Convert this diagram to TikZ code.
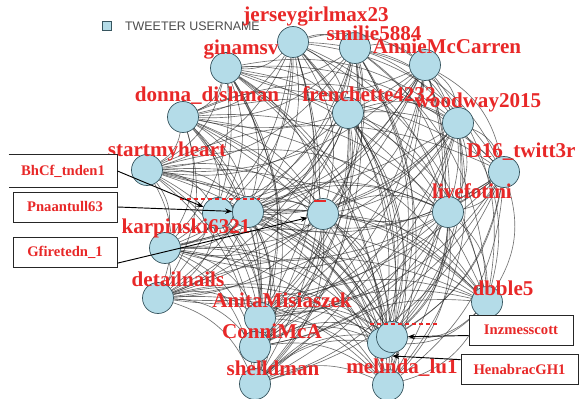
\documentclass[tikz,border=0pt]{standalone}
\usepackage{fontspec}
\setmainfont{Liberation Serif}
\newfontfamily\legendfont{Liberation Sans}
\usetikzlibrary{arrows.meta}
\pgfdeclarelayer{edges}
\pgfsetlayers{edges,main}
\definecolor{usered}{RGB}{232,40,40}
\definecolor{nodeblue}{RGB}{180,220,232}
\definecolor{nodeedge}{RGB}{55,85,95}
\def\netnodes{jersey,smilie,annie,ginamsv,donna,french,woodway,startmy,d16,bhcf,pnaan,gfire,livefot,karpin,detail,anita,conni,shelld,dbble,inzmes,henab,melinda}

\begin{document}
\begin{tikzpicture}[x=0.03cm, y=-0.03cm,
    user/.style={circle, draw=nodeedge, line width=0.6pt, fill=nodeblue, minimum size=0.93cm, inner sep=0pt},
    uname/.style={text=usered, font=\fontsize{18}{18}\selectfont\bfseries, inner sep=0pt},
    tie/.style={draw=black!85, opacity=0.65, line width=0.55pt},
    tagbox/.style={draw=black!85, line width=0.8pt, fill=white, minimum width=3.12cm, minimum height=0.9cm, text=usered, font=\fontsize{12.5}{13}\selectfont\bfseries},
    pointer/.style={-{Stealth[length=6pt,width=4.5pt]}, line width=0.8pt}]
    \useasboundingbox (0,0) rectangle (579,399);
    \clip (0,0) rectangle (579,399);
    % Legend
    \node[draw=nodeedge, fill=nodeblue, line width=0.6pt, minimum size=0.26cm, inner sep=0pt] (key) at (107,26) {};
    \node[anchor=west, text=black!70, font=\legendfont\fontsize{10.6}{11}\selectfont] (keytext) at (121,26) {TWEETER USERNAME};
    % Users
    \node[user] (jersey) at (293,42) {};
    \node[user] (smilie) at (355,48) {};
    \node[user] (annie) at (425,65) {};
    \node[user] (ginamsv) at (226,68) {};
    \node[user] (donna) at (183,117) {};
    \node[user] (french) at (348,113) {};
    \node[user] (woodway) at (458,123) {};
    \node[user] (startmy) at (147,170) {};
    \node[user] (d16) at (504,172) {};
    \node[user] (bhcf) at (218,213) {};
    \node[user] (pnaan) at (248,212) {};
    \node[user] (gfire) at (323,214) {};
    \node[user] (livefot) at (448,212) {};
    \node[user] (karpin) at (165,248) {};
    \node[user] (detail) at (158,298) {};
    \node[user] (anita) at (260,318) {};
    \node[user] (conni) at (255,347) {};
    \node[user] (shelld) at (255,384) {};
    \node[user] (dbble) at (487,302) {};
    \node[user] (henab) at (383,343) {};
    \node[user] (inzmes) at (392,337) {};
    \node[user] (melinda) at (388,385) {};
    % Usernames
    \node[uname] (jersey-t) at (316,17) {jerseygirlmax23};
    \node[uname] (smilie-t) at (374,33) {smilie5884};
    \node[uname] (annie-t) at (447,46) {AnnieMcCarren};
    \node[uname] (ginamsv-t) at (241,50) {ginamsv};
    \node[uname] (donna-t) at (207,96) {donna\_dishman};
    \node[uname] (french-t) at (369,94) {frenchette4232};
    \node[uname] (woodway-t) at (478,102) {woodway2015};
    \node[uname] (startmy-t) at (167,151) {startmyheart};
    \node[uname] (d16-t) at (521,152) {D16\_twitt3r};
    \node[uname] (livefot-t) at (472,191) {livefotini};
    \node[uname] (karpin-t) at (186,228) {karpinski6321};
    \node[uname] (detail-t) at (178,279) {detailnails};
    \node[uname] (anita-t) at (282,300) {AnitaMisiaszek};
    \node[uname] (conni-t) at (272,331) {ConniMcA};
    \node[uname] (shelld-t) at (273,368) {shelldman};
    \node[uname] (dbble-t) at (503,288) {dbble5};
    \node[uname] (melinda-t) at (402,368) {melinda\_lu1};
    % Hidden names
    \draw[usered, dashed, line width=1pt] (180,199) -- (260,199);
    \draw[usered, line width=1.2pt] (314,201) -- (326,201);
    \draw[usered, dashed, line width=1pt] (370,324) -- (440,324);
    % Edges
    \begin{pgfonlayer}{edges}
    \foreach \a [count=\i] in \netnodes {
        \foreach \b [count=\j] in \netnodes {
            \ifnum\j>\i \draw[tie] (\a) to[bend left=24] (\b); \fi
        }
    }
    \end{pgfonlayer}
    % Callouts
    \node[tagbox, draw=none, minimum width=3.24cm, minimum height=0.96cm] (bhcfbox) at (63,171) {BhCf\_tnden1};
    \draw[black!85, line width=0.8pt] (bhcfbox.north west) -- (bhcfbox.north east) -- (bhcfbox.south east) -- (bhcfbox.south west);
    \node[tagbox] (pnaanbox) at (65,207) {Pnaantull63};
    \node[tagbox] (gfirebox) at (65,252) {Gfiretedn\_1};
    \node[tagbox] (inzbox) at (521,330) {Inzmesscott};
    \node[tagbox, minimum width=3.51cm] (henabbox) at (519.5,369) {HenabracGH1};
    \draw[pointer] (bhcfbox.east) -- (bhcf);
    \draw[pointer] (pnaanbox.east) -- (pnaan);
    \draw[pointer] (gfirebox.-12) -- (gfire);
    \draw[pointer] (inzbox.186) -- (inzmes);
    \draw[pointer] (henabbox.171) -- (henab.-55);
\end{tikzpicture}
\end{document}
